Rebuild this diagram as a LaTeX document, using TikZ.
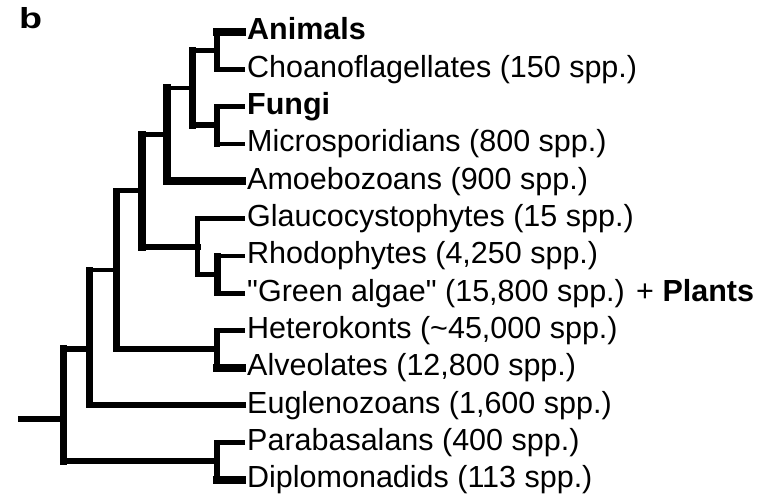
\documentclass[tikz,border=0pt]{standalone}
\usepackage{fontspec}
\setmainfont{Liberation Sans}[Ligatures=TeXOff]
\begin{document}
\begin{tikzpicture}[x=1pt,y=-1pt,
  twig/.style={line width=4.8pt,line cap=rect},
  limb/.style={line width=6.2pt,line cap=rect},
  trunk/.style={line width=7.8pt,line cap=rect},
  lab/.style={anchor=base west,inner sep=0pt,font=\fontsize{30.5}{36}\selectfont}]
\useasboundingbox (0,0) rectangle (768,495);
% tips
\coordinate (t0) at (242.5,32);
\coordinate (t1) at (242.5,69.33);
\coordinate (t2) at (242.5,106.67);
\coordinate (t3) at (242.5,144);
\coordinate (t4) at (242.5,181.33);
\coordinate (t5) at (242.5,218.67);
\coordinate (t6) at (242.5,256);
\coordinate (t7) at (242.5,293.33);
\coordinate (t8) at (242.5,330.67);
\coordinate (t9) at (242.5,368);
\coordinate (t10) at (242.5,405.33);
\coordinate (t11) at (242.5,442.67);
\coordinate (t12) at (242.5,480);
% internal nodes
\coordinate (A) at (216.7,50.67);
\coordinate (F) at (216.7,125.33);
\coordinate (O) at (192.5,88);
\coordinate (U) at (167,134.67);
\coordinate (R) at (217.5,274.67);
\coordinate (P) at (197.5,246.67);
\coordinate (UP) at (142,190.67);
\coordinate (H) at (217,349.33);
\coordinate (X) at (116.5,270);
\coordinate (E) at (89.5,349);
\coordinate (D) at (217,461.33);
\coordinate (Rt) at (63.5,419);
\coordinate (st) at (21,419);
% Animals + choanoflagellates
\draw[trunk] (A |- t0) -- (t0);
\draw[twig] (A |- t1) -- (t1);
\draw[limb] (A |- t0) -- (A |- t1);
% Fungi + microsporidians
\draw[twig] (F |- t2) -- (t2);
\draw[twig] (F |- t3) -- (t3);
\draw[limb] (F |- t2) -- (F |- t3);
% opisthokonts
\draw[twig] (O |- A) -- (A);
\draw[limb] (O |- F) -- (F);
\draw[trunk] (O |- A) -- (O |- F);
% unikonts
\draw[twig] (U |- O) -- (O);
\draw[trunk] (U |- t4) -- (t4);
\draw[trunk] (U |- O) -- (U |- t4);
% plants
\draw[twig] (R |- t6) -- (t6);
\draw[twig] (R |- t7) -- (t7);
\draw[limb] (R |- t6) -- (R |- t7);
\draw[twig] (P |- t5) -- (t5);
\draw[twig] (P |- R) -- (R);
\draw[twig] (P |- t5) -- (P |- R);
% unikonts + plants
\draw[twig] (UP |- U) -- (U);
\draw[limb] (UP |- P) -- (P);
\draw[trunk] (UP |- U) -- (UP |- P);
% heterokonts + alveolates
\draw[twig] (H |- t8) -- (t8);
\draw[trunk] (H |- t9) -- (t9);
\draw[limb] (H |- t8) -- (H |- t9);
\draw[twig] (X |- UP) -- (UP);
\draw[limb] (X |- H) -- (H);
\draw[limb] (X |- UP) -- (X |- H);
% euglenozoans
\draw[twig] (E |- X) -- (X);
\draw[limb] (E |- t10) -- (t10);
\draw[limb] (E |- X) -- (E |- t10);
% parabasalans + diplomonadids
\draw[twig] (D |- t11) -- (t11);
\draw[trunk] (D |- t12) -- (t12);
\draw[limb] (D |- t11) -- (D |- t12);
% root
\draw[limb] (Rt |- E) -- (E);
\draw[limb] (Rt |- D) -- (D);
\draw[trunk] (Rt |- E) -- (Rt |- D);
\draw[limb] (st) -- (Rt);
% labels
\node[lab] (l0) at ([shift={(4.5,7.7)}]t0) {\textbf{Animals}};
\node[lab] (l1) at ([shift={(4.5,7.7)}]t1) {Choanoflagellates (150 spp.)};
\node[lab] (l2) at ([shift={(4.5,7.7)}]t2) {\textbf{Fungi}};
\node[lab] (l3) at ([shift={(4.5,7.7)}]t3) {Microsporidians (800 spp.)};
\node[lab] (l4) at ([shift={(4.5,7.7)}]t4) {Amoebozoans (900 spp.)};
\node[lab] (l5) at ([shift={(4.5,7.7)}]t5) {Glaucocystophytes (15 spp.)};
\node[lab] (l6) at ([shift={(4.5,7.7)}]t6) {Rhodophytes (4,250 spp.)};
\node[lab] (l7) at ([shift={(4.5,7.7)}]t7) {"Green algae" (15,800 spp.) + \textbf{Plants}};
\node[lab] (l8) at ([shift={(4.5,7.7)}]t8) {Heterokonts (\textasciitilde45,000 spp.)};
\node[lab] (l9) at ([shift={(4.5,7.7)}]t9) {Alveolates (12,800 spp.)};
\node[lab] (l10) at ([shift={(4.5,7.7)}]t10) {Euglenozoans (1,600 spp.)};
\node[lab] (l11) at ([shift={(4.5,7.7)}]t11) {Parabasalans (400 spp.)};
\node[lab] (l12) at ([shift={(4.5,7.7)}]t12) {Diplomonadids (113 spp.)};
\node[anchor=base west,inner sep=0pt,font=\fontsize{29}{32}\selectfont\bfseries] (b) at (19,29) {\scalebox{1.3}[1]{b}};
\end{tikzpicture}
\end{document}
